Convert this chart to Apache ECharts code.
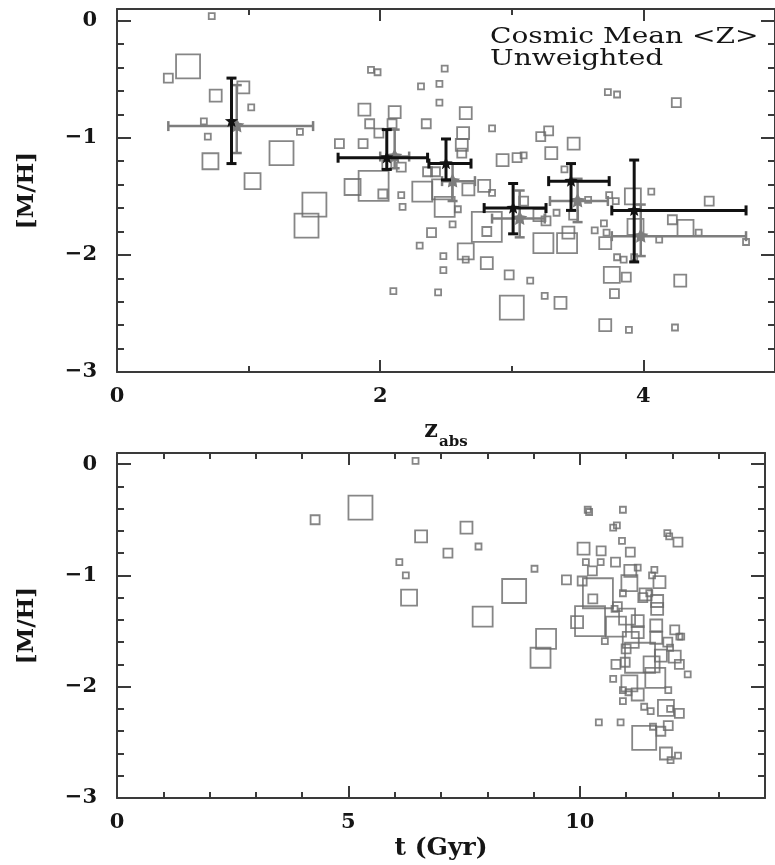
<!DOCTYPE html>
<html><head><meta charset="utf-8">
<script src="https://cdn.jsdelivr.net/npm/echarts@6/dist/echarts.min.js"></script>
<style>html,body{margin:0;padding:0;background:#fff}#c{width:775px;height:865px}</style>
</head><body><div id="c"></div><script>
// ---------- DATA ----------
// Top panel: absorbers, redshift z_abs vs [M/H], weight class (marker size class)
const topZ  = [0.72,0.54,0.39,0.96,0.75,1.02,0.66,1.39,0.69,1.25,0.71,1.03,1.50,1.44,1.93,1.98,2.49,2.31,2.45,2.45,1.88,2.11,2.65,2.35,1.92,2.09,2.85,3.28,3.22,2.63,1.99,1.69,1.87,2.62,3.47,3.30,3.09,3.04,2.93,3.73,3.80,4.25,2.62,2.05,2.16,2.36,2.42,1.95,1.79,2.02,2.16,2.17,2.32,2.47,2.49,2.67,2.79,2.85,2.59,2.39,2.55,2.30,2.48,2.48,2.65,2.65,2.81,2.81,2.81,2.98,3.09,3.21,3.26,3.34,3.24,3.42,3.43,3.47,3.40,3.58,3.74,3.79,3.70,3.63,3.72,3.71,3.92,3.94,4.06,4.12,4.22,4.32,4.42,4.50,4.78,3.80,3.85,3.93,3.76,3.87,4.28,3.14,2.10,2.44,3.00,3.25,3.37,3.78,3.71,3.89,4.24];
const topMH = [0.04,-0.39,-0.49,-0.57,-0.64,-0.74,-0.86,-0.95,-0.99,-1.13,-1.20,-1.37,-1.57,-1.75,-0.42,-0.44,-0.41,-0.56,-0.54,-0.70,-0.76,-0.78,-0.79,-0.88,-0.88,-0.88,-0.92,-0.94,-0.99,-0.96,-0.96,-1.05,-1.05,-1.06,-1.05,-1.13,-1.15,-1.17,-1.19,-0.61,-0.63,-0.70,-1.13,-1.23,-1.25,-1.29,-1.29,-1.41,-1.42,-1.48,-1.49,-1.59,-1.46,-1.44,-1.59,-1.44,-1.41,-1.47,-1.61,-1.81,-1.74,-1.92,-2.01,-2.13,-1.97,-2.04,-2.07,-1.76,-1.80,-2.17,-1.54,-1.66,-1.71,-1.64,-1.90,-1.90,-1.81,-1.66,-1.27,-1.53,-1.49,-1.54,-1.73,-1.79,-1.81,-1.90,-1.50,-1.76,-1.46,-1.87,-1.70,-1.77,-1.81,-1.54,-1.89,-2.02,-2.04,-2.02,-2.17,-2.19,-2.22,-2.22,-2.31,-2.32,-2.45,-2.35,-2.41,-2.33,-2.60,-2.64,-2.62];
const topW  = [1,6,2,3,3,1,1,1,1,6,4,4,6,6,1,1,1,1,1,1,3,3,3,2,2,2,1,2,2,3,2,2,2,3,3,3,1,2,3,1,1,2,2,2,2,2,2,7,4,2,1,1,5,5,5,3,3,1,1,2,1,1,1,1,4,1,3,7,2,2,2,3,2,1,5,5,3,2,1,1,1,1,1,1,1,3,4,4,1,1,2,4,1,2,1,1,1,1,4,2,3,1,1,1,6,1,3,2,3,1,1];

// Bottom panel: age t (Gyr) vs [M/H], weight class
const botT  = [6.45,5.26,4.28,7.55,6.57,7.81,7.15,6.10,6.24,9.02,6.31,8.58,7.90,9.27,9.15,10.17,10.20,10.93,10.72,10.80,10.91,11.89,11.93,12.12,10.08,10.46,11.09,10.13,10.45,10.77,10.27,11.25,11.09,11.61,9.71,10.05,11.07,11.56,11.72,10.39,10.28,10.93,11.42,11.50,11.36,11.67,11.67,10.81,10.75,11.02,10.22,9.94,11.25,10.78,11.25,11.65,12.05,12.15,10.54,11.10,11.65,11.90,12.19,11.95,11.00,11.30,10.78,10.98,11.55,11.75,12.05,12.15,12.33,10.72,11.07,11.63,11.91,10.93,11.05,11.25,10.93,11.39,11.53,11.86,11.95,12.15,10.41,10.88,11.58,11.91,11.75,11.39,11.86,12.12,11.96];
const botMH = [0.03,-0.39,-0.50,-0.57,-0.65,-0.74,-0.80,-0.88,-1.00,-0.94,-1.20,-1.14,-1.37,-1.57,-1.74,-0.41,-0.43,-0.41,-0.57,-0.55,-0.69,-0.62,-0.65,-0.70,-0.76,-0.78,-0.79,-0.88,-0.88,-0.88,-0.96,-0.93,-0.96,-0.95,-1.04,-1.05,-1.07,-1.00,-1.06,-1.16,-1.21,-1.16,-1.17,-1.16,-1.20,-1.23,-1.30,-1.28,-1.30,-1.37,-1.41,-1.42,-1.41,-1.46,-1.51,-1.45,-1.49,-1.55,-1.59,-1.58,-1.56,-1.60,-1.55,-1.65,-1.66,-1.74,-1.80,-1.78,-1.80,-1.72,-1.73,-1.80,-1.89,-1.93,-1.97,-1.92,-2.03,-2.03,-2.05,-2.07,-2.13,-2.18,-2.22,-2.19,-2.20,-2.24,-2.32,-2.32,-2.36,-2.35,-2.40,-2.46,-2.60,-2.62,-2.66];
const botW  = [1,6,2,3,3,1,2,1,1,1,4,6,5,5,5,1,1,1,1,1,1,1,1,2,3,2,2,1,1,2,2,1,3,1,2,2,4,1,3,7,2,1,3,1,2,3,3,2,1,4,7,3,3,5,3,3,2,1,1,4,3,2,1,1,2,7,2,2,4,3,3,2,1,1,4,5,1,1,1,3,1,1,1,4,1,2,1,1,1,2,2,6,3,1,1];

// Cosmic means: [z, [M/H], zLow, zHigh, [M/H]Low, [M/H]High]
const meanZ      = [0.87, 2.05, 2.50, 3.01, 3.45, 3.93];
const meanMH     = [-0.86,-1.17,-1.22,-1.60,-1.37,-1.62];
const meanZLo    = [0.87, 1.68, 2.37, 2.79, 3.28, 3.76];
const meanZHi    = [0.87, 2.36, 2.69, 3.26, 3.74, 4.78];
const meanMHLo   = [-1.22,-1.27,-1.36,-1.82,-1.62,-2.06];
const meanMHHi   = [-0.49,-0.93,-1.01,-1.39,-1.22,-1.19];
// Unweighted means
const unwZ       = [0.91, 2.11, 2.55, 3.06, 3.50, 3.98];
const unwMH      = [-0.90,-1.16,-1.37,-1.69,-1.54,-1.84];
const unwZLo     = [0.39, 2.00, 2.47, 2.85, 3.29, 3.76];
const unwZHi     = [1.49, 2.22, 2.72, 3.25, 3.73, 4.78];
const unwMHLo    = [-1.13,-1.26,-1.54,-1.85,-1.72,-2.01];
const unwMHHi    = [-0.55,-0.93,-1.22,-1.45,-1.35,-1.57];

// ---------- STYLE ----------
const SIZE = {1:6,2:9,3:12,4:16,5:20,6:24,7:30};
const AX = '#3a3a3a', TXT = '#151515';
const FONT = 'DejaVu Serif';
const fmt = v => (Math.abs(v) < 1e-9 ? '0' : (v < 0 ? '\u2212' + Math.abs(v) : String(v)));

function zip3(a,b,c){ return a.map((v,i)=>[v,b[i],c[i]]); }
function zip6(a,b,c,d,e,f){ return a.map((v,i)=>[v,b[i],c[i],d[i],e[i],f[i]]); }

function xAxes(gi, min, max, major, minor, majLen, minLen, name, nameGap){
  const base = {gridIndex:gi, type:'value', min:min, max:max, splitLine:{show:false}};
  return [
    Object.assign({}, base, {position:'bottom', interval:major,
      axisLine:{show:true, onZero:false, lineStyle:{color:AX,width:2}},
      axisTick:{show:true, inside:true, length:majLen, lineStyle:{color:AX,width:2}},
      axisLabel:{show:true, formatter:fmt, showMaxLabel:false, margin:14, color:TXT, fontFamily:FONT, fontWeight:'bold', fontSize:21},
      name:name, nameLocation:'middle', nameGap:nameGap}),
    Object.assign({}, base, {position:'bottom', interval:minor,
      axisLine:{show:false, onZero:false}, axisLabel:{show:false},
      axisTick:{show:true, inside:true, length:minLen, lineStyle:{color:AX,width:2}}}),
    Object.assign({}, base, {position:'top', interval:major,
      axisLine:{show:true, onZero:false, lineStyle:{color:AX,width:2}}, axisLabel:{show:false},
      axisTick:{show:true, inside:true, length:majLen, lineStyle:{color:AX,width:2}}}),
    Object.assign({}, base, {position:'top', interval:minor,
      axisLine:{show:false, onZero:false}, axisLabel:{show:false},
      axisTick:{show:true, inside:true, length:minLen, lineStyle:{color:AX,width:2}}})
  ];
}
function yAxes(gi){
  const base = {gridIndex:gi, type:'value', min:-3, max:0.1, splitLine:{show:false}};
  return [
    Object.assign({}, base, {position:'left', interval:1,
      axisLine:{show:true, onZero:false, lineStyle:{color:AX,width:2}},
      axisTick:{show:true, inside:true, length:14, lineStyle:{color:AX,width:2}},
      axisLabel:{show:true, formatter:fmt, showMaxLabel:false, margin:20, color:TXT, fontFamily:FONT, fontWeight:'bold', fontSize:21},
      name:'[M/H]', nameLocation:'middle', nameRotate:90, nameGap:78,
      nameTextStyle:{color:TXT, fontFamily:FONT, fontWeight:'bold', fontSize:23}}),
    Object.assign({}, base, {position:'left', interval:0.2,
      axisLine:{show:false, onZero:false}, axisLabel:{show:false},
      axisTick:{show:true, inside:true, length:7, lineStyle:{color:AX,width:2}}}),
    Object.assign({}, base, {position:'right', interval:1,
      axisLine:{show:true, onZero:false, lineStyle:{color:AX,width:2}}, axisLabel:{show:false},
      axisTick:{show:true, inside:true, length:14, lineStyle:{color:AX,width:2}}}),
    Object.assign({}, base, {position:'right', interval:0.2,
      axisLine:{show:false, onZero:false}, axisLabel:{show:false},
      axisTick:{show:true, inside:true, length:7, lineStyle:{color:AX,width:2}}})
  ];
}

const xa = xAxes(0, 0, 5, 2, 1, 12, 6, '{z|z}{s|abs}', 45)
  .concat(xAxes(1, 0, 14, 5, 1, 12, 6, 't (Gyr)', 38));
xa[0].nameTextStyle = {rich:{
  z:{fontFamily:FONT, fontWeight:'bold', fontSize:24, color:TXT, verticalAlign:'bottom', lineHeight:26},
  s:{fontFamily:FONT, fontWeight:'bold', fontSize:15, color:TXT, verticalAlign:'bottom', lineHeight:16, padding:[0,0,-7,1]}}};
xa[4].nameTextStyle = {fontFamily:FONT, fontWeight:'bold', fontSize:25, color:TXT};
const ya = yAxes(0).concat(yAxes(1));

function squares(name, data, xi, yi){
  return {type:'scatter', name:name, xAxisIndex:xi, yAxisIndex:yi, data:data, symbol:'rect',
    symbolSize: v => SIZE[v[2]],
    itemStyle:{color:'rgba(0,0,0,0)', borderColor:'#686868', borderWidth:1.8},
    silent:true, animation:false, z:2};
}

function starPts(cx, cy, R, r){
  const pts=[];
  for(let k=0;k<10;k++){
    const a = -Math.PI/2 + k*Math.PI/5, rr = (k%2===0)?R:r;
    pts.push([cx+rr*Math.cos(a), cy+rr*Math.sin(a)]);
  }
  return pts;
}
function errSeries(name, data, color, lw, R, r, z){
  return {type:'custom', name:name, xAxisIndex:0, yAxisIndex:0, data:data, z:z, animation:false, silent:true,
    renderItem:function(params, api){
      const x=api.value(0), y=api.value(1), xl=api.value(2), xh=api.value(3), yl=api.value(4), yh=api.value(5);
      const c=api.coord([x,y]), a=api.coord([xl,y]), b=api.coord([xh,y]), d=api.coord([x,yl]), e=api.coord([x,yh]);
      const st={stroke:color, lineWidth:lw}, cap=5, ch=[];
      if (xh>xl){
        ch.push({type:'line', shape:{x1:a[0],y1:a[1],x2:b[0],y2:b[1]}, style:st});
        ch.push({type:'line', shape:{x1:a[0],y1:a[1]-cap,x2:a[0],y2:a[1]+cap}, style:st});
        ch.push({type:'line', shape:{x1:b[0],y1:b[1]-cap,x2:b[0],y2:b[1]+cap}, style:st});
      }
      if (yh>yl){
        ch.push({type:'line', shape:{x1:d[0],y1:d[1],x2:e[0],y2:e[1]}, style:st});
        ch.push({type:'line', shape:{x1:d[0]-cap,y1:d[1],x2:d[0]+cap,y2:d[1]}, style:st});
        ch.push({type:'line', shape:{x1:e[0]-cap,y1:e[1],x2:e[0]+cap,y2:e[1]}, style:st});
      }
      ch.push({type:'polygon', shape:{points:starPts(c[0],c[1],R,r)}, style:{fill:color}});
      return {type:'group', children:ch};
    }};
}

const chart = echarts.init(document.getElementById('c'), null, {renderer:'canvas'});
chart.setOption({
  animation:false,
  backgroundColor:'#ffffff',
  grid:[
    {left:117, right:-5, top:9, height:363},
    {left:117, right:10, top:453, height:345}
  ],
  xAxis: xa,
  yAxis: ya,
  series:[
    squares('top', zip3(topZ, topMH, topW), 0, 0),
    squares('bottom', zip3(botT, botMH, botW), 4, 4),
    errSeries('unweighted', zip6(unwZ, unwMH, unwZLo, unwZHi, unwMHLo, unwMHHi), '#7d7d7d', 2.5, 8, 4, 5),
    errSeries('cosmic', zip6(meanZ, meanMH, meanZLo, meanZHi, meanMHLo, meanMHHi), '#111111', 3, 7, 3, 6)
  ],
  graphic:[
    {type:'text', left:490, top:26, scaleX:1.22, style:{text:'Cosmic Mean <Z>', fontFamily:FONT, fontSize:23, fill:TXT}, z:10},
    {type:'text', left:490, top:48, scaleX:1.22, style:{text:'Unweighted', fontFamily:FONT, fontSize:23, fill:TXT}, z:10}
  ]
});
</script></body></html>
